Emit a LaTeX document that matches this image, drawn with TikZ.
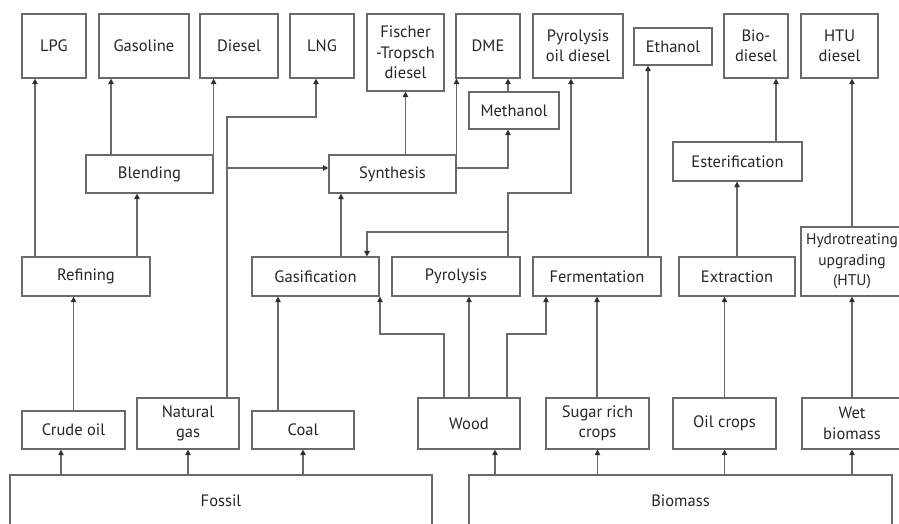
\documentclass[tikz,border=0pt]{standalone}
\usepackage{fontspec}
\setmainfont{PT Sans}
\usetikzlibrary{arrows.meta}
\definecolor{cLine}{HTML}{6a6a6a}
\definecolor{cTip}{HTML}{303030}
\tikzset{
  box/.style={draw=cLine,line width=1.2pt,fill=white,align=center,inner sep=1pt,
              font=\fontsize{16.5}{20.5}\selectfont,text=black!85},
  flow/.style={-{Triangle[length=5.5pt,width=5.5pt,color=cTip]},line width=1.2pt,cLine},
}

\begin{document}
\begin{tikzpicture}[x=1pt,y=-1pt]
  \useasboundingbox (0,0) rectangle (899,523);
  % fuels
  \node[box,minimum width=64pt,minimum height=64pt] (lpg) at (54,46) {LPG};
  \node[box,minimum width=90pt,minimum height=64pt] (gasoline) at (144,46) {Gasoline};
  \node[box,minimum width=78pt,minimum height=64pt] (diesel) at (239,46) {Diesel};
  \node[box,minimum width=64pt,minimum height=64pt] (lng) at (322,46) {LNG};
  \node[box,minimum width=77pt,minimum height=77pt] (ftd) at (405.5,52.5) {Fischer\\-Tropsch\\diesel};
  \node[box,minimum width=64pt,minimum height=64pt] (dme) at (488,46) {DME};
  \node[box,minimum width=90pt,minimum height=64pt] (pyroil) at (578,46) {Pyrolysis\\oil diesel};
  \node[box,minimum width=78pt,minimum height=37pt] (ethanol) at (673,46.5) {Ethanol};
  \node[box,minimum width=64pt,minimum height=64pt] (biodiesel) at (756,46) {Bio-\\diesel};
  \node[box,minimum width=77pt,minimum height=64pt] (htudiesel) at (839.5,46) {HTU\\diesel};
  % intermediate steps
  \node[box,minimum width=90pt,minimum height=37pt] (methanol) at (514,110.5) {Methanol};
  \node[box,minimum width=127pt,minimum height=38pt] (blending) at (149.5,174) {Blending};
  \node[box,minimum width=127pt,minimum height=38pt] (synthesis) at (392.5,174) {Synthesis};
  \node[box,minimum width=129pt,minimum height=39pt] (ester) at (737.5,161.5) {Esterification};
  % conversion
  \node[box,minimum width=128pt,minimum height=39pt] (refining) at (86,276.5) {Refining};
  \node[box,minimum width=127pt,minimum height=39pt] (gasif) at (315.5,276.5) {Gasification};
  \node[box,minimum width=128pt,minimum height=39pt] (pyrolysis) at (456,276.5) {Pyrolysis};
  \node[box,minimum width=128pt,minimum height=39pt] (ferment) at (597,276.5) {Fermentation};
  \node[box,minimum width=116pt,minimum height=39pt] (extract) at (737,276.5) {Extraction};
  \node[box,minimum width=102pt,minimum height=69pt,font=\fontsize{15.5}{20.5}\selectfont] (htu) at (852,261.5) {Hydrotreating\\upgrading\\(HTU)};
  % feedstocks
  \node[box,minimum width=103pt,minimum height=38pt] (crude) at (73.5,430) {Crude oil};
  \node[box,minimum width=102pt,minimum height=51pt] (natgas) at (188,423.5) {Natural\\gas};
  \node[box,minimum width=102pt,minimum height=38pt] (coal) at (303,430) {Coal};
  \node[box,minimum width=102pt,minimum height=51pt] (wood) at (469,423.5) {Wood};
  \node[box,minimum width=103pt,minimum height=51pt] (sugar) at (597.5,423.5) {Sugar rich\\crops};
  \node[box,minimum width=103pt,minimum height=51pt] (oilcrops) at (724.5,423.5) {Oil crops};
  \node[box,minimum width=100pt,minimum height=51pt] (wet) at (852,423.5) {Wet\\biomass};
  \node[box,minimum width=422pt,minimum height=52pt] (fossil) at (221,501) {Fossil};
  \node[box,minimum width=423pt,minimum height=52pt] (biomass) at (680.5,501) {Biomass};

  \draw[flow] (fossil.north -| 61,0) -- (crude.south -| 61,0);
  \draw[flow] (fossil.north -| natgas.south) -- (natgas.south);
  \draw[flow] (fossil.north -| coal.south) -- (coal.south);
  \draw[flow] (biomass.north -| 495,0) -- (wood.south -| 495,0);
  \draw[flow] (biomass.north -| sugar.south) -- (sugar.south);
  \draw[flow] (biomass.north -| oilcrops.south) -- (oilcrops.south);
  \draw[flow] (biomass.north -| wet.south) -- (wet.south);

  \draw[flow] (crude.north) -- (crude.north |- refining.south);
  \draw[flow] (refining.north -| 35,0) -- (lpg.south -| 35,0);
  \draw[flow] (refining.north -| 137,0) -- (blending.south -| 137,0);
  \draw[flow] (blending.north -| 111,0) -- (gasoline.south -| 111,0);
  \draw[flow] (blending.north east) -- (diesel.south -| blending.north east);
  \draw[flow] (natgas.north -| 227,0) |- (316,117) -- (lng.south -| 316,0);
  \draw[flow] (227,168) -- (synthesis.west |- 0,168);
  \draw[flow] (coal.north -| 278,0) -- (gasif.south -| 278,0);
  \draw[flow] (gasif.north -| 341,0) -- (synthesis.south -| 341,0);
  \draw[flow] (synthesis.north -| ftd.south) -- (ftd.south);
  \draw[flow] (synthesis.north -| 456.5,0) -- (dme.south -| 456.5,0);
  \draw[flow] (synthesis.east |- 0,168) -| (methanol.south -| 508,0);
  \draw[flow] (methanol.north -| 508,0) -- (dme.south -| 508,0);
  \draw[flow] (pyrolysis.north -| 508,0) |- (571,193) -- (pyroil.south -| 571,0);
  \draw[flow] (508,232) -| (gasif.north -| 367,0);
  \draw[flow] (wood.north -| 444,0) |- (380,334) -- (gasif.south -| 380,0);
  \draw[flow] (wood.north) -- (wood.north |- pyrolysis.south);
  \draw[flow] (wood.north -| 507,0) |- (546,334) -- (ferment.south -| 546,0);
  \draw[flow] (sugar.north -| ferment.south) -- (ferment.south);
  \draw[flow] (ferment.north -| 648,0) -- (ethanol.south -| 648,0);
  \draw[flow] (oilcrops.north) -- (oilcrops.north |- extract.south);
  \draw[flow] (extract.north) -- (ester.south -| extract.north);
  \draw[flow] (ester.north -| 776,0) -- (biodiesel.south -| 776,0);
  \draw[flow] (wet.north) -- (wet.north |- htu.south);
  \draw[flow] (htu.north) -- (htu.north |- htudiesel.south);
\end{tikzpicture}
\end{document}
